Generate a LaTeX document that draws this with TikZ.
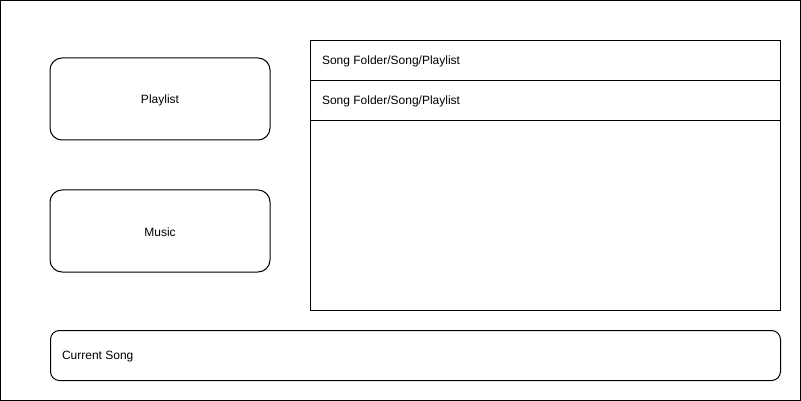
\documentclass[tikz,border=0pt]{standalone}
\usepackage{fontspec}
\setmainfont{Liberation Sans}
\begin{document}
\begin{tikzpicture}[x=1pt,y=-1pt,line width=1pt,
  every node/.style={font=\fontsize{12}{14}\selectfont,inner sep=0pt,outer sep=0pt},
  btn/.style={draw,rounded corners=12pt,minimum width=220pt,minimum height=82pt},
  rowbox/.style={draw,minimum width=470pt,minimum height=40pt},
  lbl/.style={anchor=west}]
\useasboundingbox (0,0) rectangle (801,401);
\node[draw,minimum width=800pt,minimum height=400pt,anchor=north west] (frame) at (0.5,0.5) {};
\node[btn] (playlist) at (160,99) {};
\node[btn] (music) at (160,231) {};
\node (pt) at (160,100.2) {Playlist};
\node (mt) at (160,232.2) {Music};
\node[draw,minimum width=470pt,minimum height=270pt,anchor=north west] (panel) at (310.5,40.5) {};
\node[rowbox,anchor=north west] (row1) at (310.5,40.5) {};
\node[rowbox,anchor=north west] (row2) at (310.5,80.5) {};
\node[lbl] (t1) at (322,61.5) {Song Folder/Song/Playlist};
\node[lbl] (t2) at (322,101.5) {Song Folder/Song/Playlist};
\node[draw,rounded corners=9pt,minimum width=730pt,minimum height=50pt,anchor=north west] (current) at (50.5,330.5) {};
\node[lbl] (ct) at (62,356.5) {Current Song};
\end{tikzpicture}
\end{document}
